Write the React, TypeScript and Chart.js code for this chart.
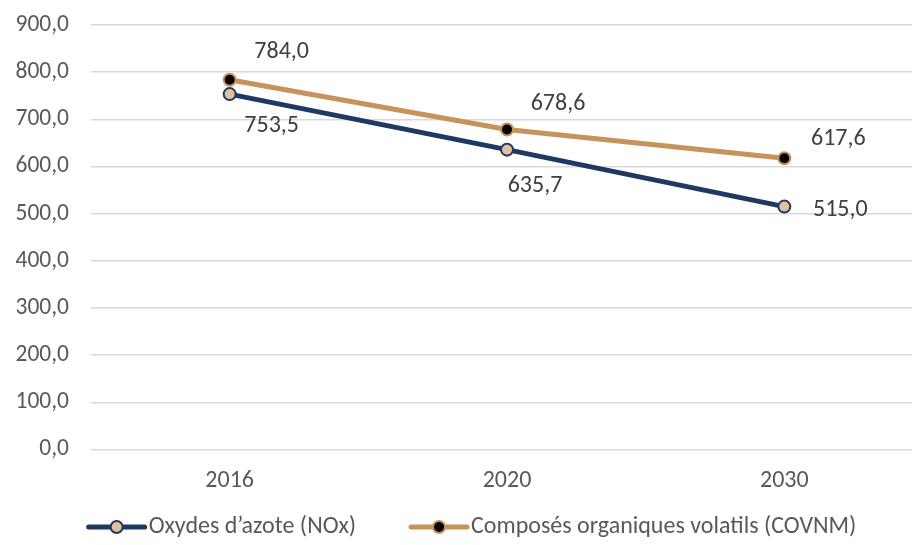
import React, { useEffect, useRef } from "react";
import { Chart, registerables } from "chart.js";

Chart.register(...registerables);

const categories = ["2016", "2020", "2030"];
const noxValues = [753.5, 635.7, 515.0];
const covnmValues = [784.0, 678.6, 617.6];
const noxLabel = "Oxydes d\u2019azote (NOx)";
const covnmLabel = "Compos\u00e9s organiques volatils (COVNM)";

const NAVY = "#1f3864";
const TAN = "#c6935a";
const NOX_FILL = "#e0c19b";
const FONT = "Carlito, Lato, 'Noto Sans', sans-serif";

const fmt = (v: number) => v.toFixed(1).replace(".", ",");

const labelOffsets: Record<number, [number, number][]> = {
  0: [[42, 32], [28, 36], [56, 3]],
  1: [[52, -28], [51, -25], [54, -19]],
};

const dataLabelPlugin = {
  id: "dataLabels",
  afterDatasetsDraw(chart: any) {
    const ctx = chart.ctx;
    ctx.save();
    ctx.font = `24px ${FONT}`;
    ctx.fillStyle = "#404040";
    ctx.textAlign = "center";
    ctx.textBaseline = "middle";
    chart.data.datasets.forEach((ds: any, di: number) => {
      const meta = chart.getDatasetMeta(di);
      meta.data.forEach((pt: any, i: number) => {
        const [dx, dy] = labelOffsets[di][i];
        ctx.fillText(fmt(ds.data[i]), pt.x + dx, pt.y + dy);
      });
    });
    ctx.restore();
  },
};

const legendPlugin = {
  id: "customLegend",
  afterDraw(chart: any) {
    const ctx = chart.ctx;
    ctx.save();
    ctx.font = `24px ${FONT}`;
    ctx.textBaseline = "middle";
    ctx.textAlign = "left";
    const y = 527;
    const symW = 60;
    const gapText = 2;
    const gapItem = 53;
    const items = chart.data.datasets.map((ds: any) => ({
      text: ds.label,
      line: ds.borderColor,
      fill: ds.pointBackgroundColor,
      border: ds.pointBorderColor,
      w: symW + gapText + ctx.measureText(ds.label).width,
    }));
    const total = items.reduce((s: number, it: any) => s + it.w, 0) + gapItem * (items.length - 1);
    let x = 471.5 - total / 2;
    items.forEach((it: any) => {
      ctx.strokeStyle = it.line;
      ctx.lineWidth = 5;
      ctx.lineCap = "round";
      ctx.beginPath();
      ctx.moveTo(x + 2, y);
      ctx.lineTo(x + symW - 2, y);
      ctx.stroke();
      ctx.beginPath();
      ctx.arc(x + symW / 2, y, 6, 0, Math.PI * 2);
      ctx.fillStyle = it.fill;
      ctx.fill();
      ctx.lineWidth = 2;
      ctx.strokeStyle = it.border;
      ctx.stroke();
      ctx.fillStyle = "#595959";
      ctx.fillText(it.text, x + symW + gapText, y);
      x += it.w + gapItem;
    });
    ctx.restore();
  },
};

export default function App() {
  const ref = useRef<HTMLCanvasElement>(null);
  useEffect(() => {
    const chart = new Chart(ref.current!, {
      type: "line",
      data: {
        labels: categories,
        datasets: [
          {
            label: noxLabel,
            data: noxValues,
            borderColor: NAVY,
            borderWidth: 5,
            pointRadius: 6,
            pointBorderWidth: 2,
            pointBackgroundColor: NOX_FILL,
            pointBorderColor: NAVY,
            tension: 0,
          },
          {
            label: covnmLabel,
            data: covnmValues,
            borderColor: TAN,
            borderWidth: 5,
            pointRadius: 6,
            pointBorderWidth: 2,
            pointBackgroundColor: "#000000",
            pointBorderColor: TAN,
            tension: 0,
          },
        ],
      },
      options: {
        animation: false,
        responsive: false,
        layout: { padding: { top: 25, left: 0, right: 0, bottom: 55 } },
        plugins: {
          tooltip: { enabled: false },
          legend: { display: false },
        },
        scales: {
          x: {
            offset: true,
            grid: { display: false, drawTicks: false },
            border: { display: false },
            ticks: {
              color: "#595959",
              font: { family: FONT, size: 24 },
              padding: 17,
            },
            afterFit: (scale: any) => {
              scale.height = 40.5;
              scale.paddingLeft = 0;
              scale.paddingRight = 0;
            },
          },
          y: {
            min: 0,
            max: 900,
            grid: { color: "#d9d9d9", lineWidth: 1.5, drawTicks: false },
            border: { display: false },
            ticks: {
              stepSize: 100,
              color: "#595959",
              font: { family: FONT, size: 23.5 },
              padding: 22,
              callback: (v: any) => fmt(Number(v)),
            },
            afterFit: (scale: any) => {
              scale.width = 91;
              scale.paddingTop = 0;
              scale.paddingBottom = 0;
            },
          },
        },
      },
      plugins: [dataLabelPlugin, legendPlugin],
    });
    return () => chart.destroy();
  }, []);
  return (
    <div style={{ position: "fixed", left: 0, top: 0, width: 931, height: 545, background: "#fff" }}>
      <canvas ref={ref} width={931} height={545} />
    </div>
  );
}
